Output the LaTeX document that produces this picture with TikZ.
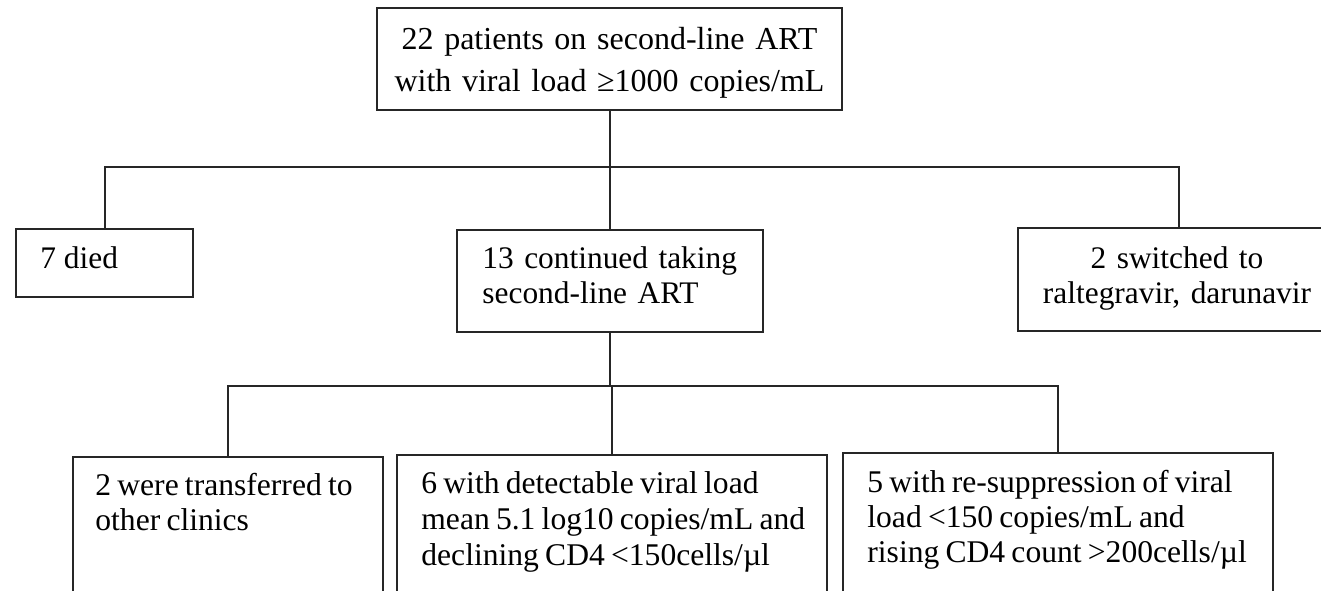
\documentclass[tikz,border=0pt]{standalone}
\usepackage{fontspec}
\setmainfont{Liberation Serif}
\usetikzlibrary{fit}
\newcommand{\tightspaces}{\spaceskip=3.1pt plus 0.8pt\relax}
\begin{document}
\begin{tikzpicture}[x=0.5pt,y=-0.5pt,
  box/.style={draw=black!85, line width=1pt, inner sep=0pt, rectangle},
  link/.style={draw=black!85, line width=1pt},
  txt/.style={inner sep=0pt, font=\fontsize{15.7}{17.5}\selectfont, align=left, anchor=base west},
  lowtxt/.style={txt, font=\fontsize{15.8}{#1}\selectfont}]
\clip (0,0) rectangle (1321,590);
\fill[white] (0,0) rectangle (1321,590);

% boxes
\node[box, fit={(377,8) (842,110)}] (top) {};
\node[box, fit={(16,229) (193,297)}] (died) {};
\node[box, fit={(457,230) (763,332)}] (cont) {};
\node[box, fit={(1018,228) (1340,331)}] (switch) {};
\node[box, fit={(73,457) (383,640)}] (transf) {};
\node[box, fit={(397,455) (827,640)}] (detect) {};
\node[box, fit={(843,453) (1273,640)}] (resup) {};

% bus lines
\coordinate (bus1) at (0,167);
\coordinate (bus2) at (0,386);

% first level
\draw[link] (top.south) -- (top.south |- bus1);
\draw[link] (died.north) -- (died.north |- bus1) -- (switch.north |- bus1) -- (switch.north);
\draw[link] (cont.north |- bus1) -- (cont.north);

% second level
\draw[link] (cont.south) -- (cont.south |- bus2);
\draw[link] (transf.north) -- (transf.north |- bus2) -- (resup.north |- bus2) -- (resup.north);
\draw[link] (detect.north |- bus2) -- (detect.north);

% texts
\node[txt, font=\fontsize{16}{21}\selectfont, text width=240pt, align=center, anchor=base] (toptext) at (609.5,49)
  {22 patients on second-line ART\\with viral load ≥1000 copies/mL};
\node[txt] (diedtext) at (40,268) {7 died};
\node[txt, text width=150pt] (conttext) at (482,268) {13 continued taking\\second-line ART};
\node[txt, text width=170pt, align=center, anchor=base] (switchtext) at (1177,268)
  {2 switched to\\raltegravir, darunavir};
\node[lowtxt=17.5, text width=150pt] (transftext) at (95,495)
  {\tightspaces 2 were transferred to\\other clinics};
\node[lowtxt=18, text width=210pt] (detecttext) at (421,493)
  {\tightspaces 6 with detectable viral load\\mean 5.1 log10 copies/mL and\\declining CD4 <150cells/µl};
\node[lowtxt=17.5, text width=210pt] (resuptext) at (867,492)
  {\tightspaces 5 with re-suppression of viral\\load <150 copies/mL and\\rising CD4 count >200cells/µl};
\end{tikzpicture}
\end{document}
